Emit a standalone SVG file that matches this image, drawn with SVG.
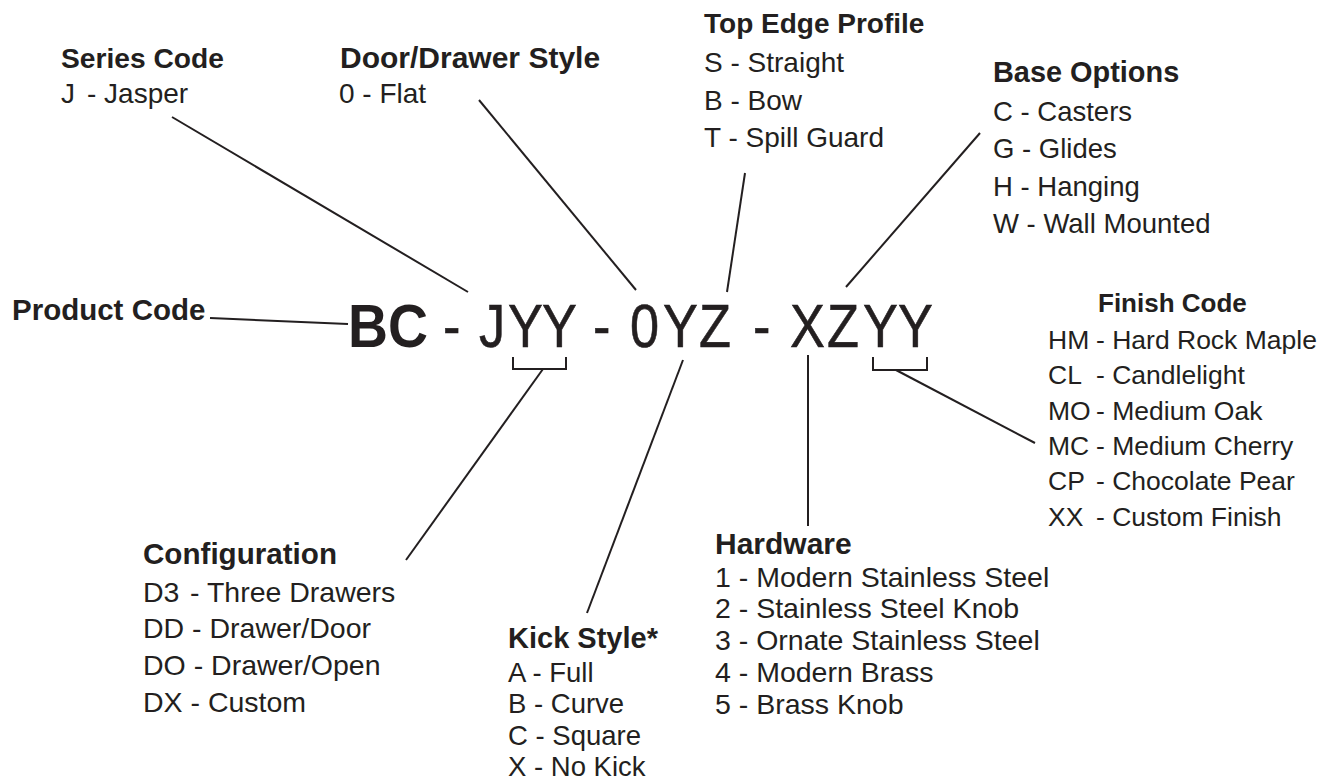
<svg xmlns="http://www.w3.org/2000/svg" width="1335" height="780" viewBox="0 0 1335 780">
<style>
  text { font-family: "Liberation Sans", Arial, sans-serif; fill: #231f20; }
  .h { font-weight: bold; }
  .code { font-size: 61.5px; }
  .thick { stroke: #231f20; stroke-width: 0.6; }
  .conn line, .conn path { stroke: #231f20; stroke-width: 2; fill: none; }
</style>
<rect width="1335" height="780" fill="#ffffff"/>

<g id="code">
  <text class="code h" transform="scale(0.9,1)" x="386.7 431.1" y="347">BC</text>
  <text class="code thick" transform="scale(0.85,1)" x="521.2 563.5 597.6 637.6 697.6 741.2 780 822.4 885.9 929.4 972.9 1015.3 1056.5" y="347">-JYY-0YZ-XZYY</text>
</g>

<g id="product-code">
  <text class="h" x="12" y="320" font-size="29.5">Product Code</text>
</g>

<g id="series-code">
  <text class="h" x="61" y="68" font-size="28.2">Series Code</text>
  <text x="61" y="103" font-size="28">J<tspan x="87">- Jasper</tspan></text>
</g>

<g id="door-drawer-style">
  <text class="h" x="340" y="68" font-size="30">Door/Drawer Style</text>
  <text x="339" y="103" font-size="28">0 - Flat</text>
</g>

<g id="top-edge-profile">
  <text class="h" x="704" y="33" font-size="28">Top Edge Profile</text>
  <text x="704" y="72" font-size="28">S - Straight</text>
  <text x="704" y="110" font-size="28">B - Bow</text>
  <text x="704" y="147" font-size="28">T - Spill Guard</text>
</g>

<g id="base-options">
  <text class="h" x="993" y="82" font-size="28.9">Base Options</text>
  <text x="993" y="121" font-size="27.5">C - Casters</text>
  <text x="993" y="158" font-size="27.5">G - Glides</text>
  <text x="993" y="196" font-size="27.5">H - Hanging</text>
  <text x="993" y="233" font-size="27.5">W - Wall Mounted</text>
</g>

<g id="finish-code">
  <text class="h" x="1098" y="312" font-size="26">Finish Code</text>
  <text x="1048" y="349" font-size="26.5">HM<tspan x="1096">- Hard Rock Maple</tspan></text>
  <text x="1048" y="384" font-size="26.5">CL<tspan x="1096">- Candlelight</tspan></text>
  <text x="1048" y="420" font-size="26.5">MO<tspan x="1096">- Medium Oak</tspan></text>
  <text x="1048" y="455" font-size="26.5">MC<tspan x="1096">- Medium Cherry</tspan></text>
  <text x="1048" y="490" font-size="26.5">CP<tspan x="1096">- Chocolate Pear</tspan></text>
  <text x="1048" y="526" font-size="26.5">XX<tspan x="1096">- Custom Finish</tspan></text>
</g>

<g id="hardware">
  <text class="h" x="715" y="554" font-size="30">Hardware</text>
  <text x="715" y="587" font-size="28.5">1 - Modern Stainless Steel</text>
  <text x="715" y="618" font-size="28.5">2 - Stainless Steel Knob</text>
  <text x="715" y="650" font-size="28.5">3 - Ornate Stainless Steel</text>
  <text x="715" y="682" font-size="28.5">4 - Modern Brass</text>
  <text x="715" y="714" font-size="28.5">5 - Brass Knob</text>
</g>

<g id="kick-style">
  <text class="h" x="508" y="648" font-size="29">Kick Style*</text>
  <text x="508" y="682" font-size="27.5">A - Full</text>
  <text x="508" y="713" font-size="27.5">B - Curve</text>
  <text x="508" y="745" font-size="27.5">C - Square</text>
  <text x="508" y="776" font-size="27.5">X - No Kick</text>
</g>

<g id="configuration">
  <text class="h" x="143" y="564" font-size="29.6">Configuration</text>
  <text x="143" y="602" font-size="28.5">D3<tspan x="190">- Three Drawers</tspan></text>
  <text x="143" y="638" font-size="28.5">DD - Drawer/Door</text>
  <text x="143" y="675" font-size="28.5">DO - Drawer/Open</text>
  <text x="143" y="712" font-size="28.5">DX - Custom</text>
</g>

<g id="connectors" class="conn">
  <line x1="172" y1="117" x2="468" y2="292"/>
  <line x1="479" y1="100" x2="636" y2="290"/>
  <line x1="745" y1="173" x2="727" y2="292"/>
  <line x1="980" y1="133" x2="846" y2="287"/>
  <line x1="210" y1="318" x2="348" y2="324"/>
  <path d="M513,357 V369 H566 V357"/>
  <line x1="543" y1="369" x2="406" y2="560"/>
  <line x1="683" y1="360" x2="587" y2="613"/>
  <line x1="808" y1="355" x2="808" y2="526"/>
  <path d="M873,357 V370 H927 V357"/>
  <line x1="896" y1="370" x2="1035" y2="443"/>
</g>
</svg>
